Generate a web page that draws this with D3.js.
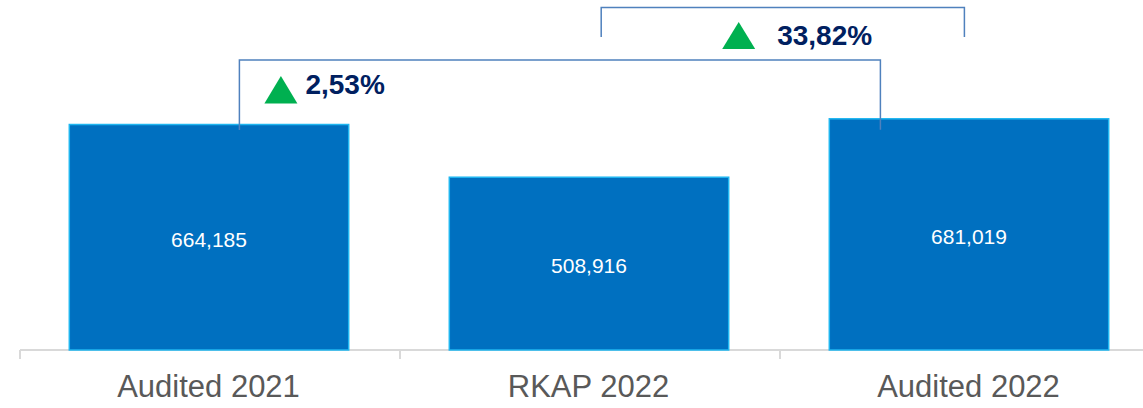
<!DOCTYPE html>
<html>
<head>
<meta charset="utf-8">
<script src="https://cdn.jsdelivr.net/npm/d3@7"></script>
<style>
  html, body { margin: 0; padding: 0; background: #fff; }
  svg { display: block; }
</style>
</head>
<body>
<svg id="chart" width="1143" height="408"></svg>
<script>
const categories = ["Audited 2021", "RKAP 2022", "Audited 2022"];
const values = [664185, 508916, 681019];
const valueLabels = ["664,185", "508,916", "681,019"];
const growthLabels = ["2,53%", "33,82%"];

const W = 1143, H = 408;
const svg = d3.select("#chart");

const x = d3.scaleBand()
  .domain(categories)
  .range([20, 1160])
  .paddingInner(100 / 380)
  .paddingOuter(50 / 380);

const y = d3.scaleLinear().domain([0, 700000]).range([350, 350 - 237.65]);

// axis
const axis = d3.axisBottom(x).tickSize(0).tickFormat(d => d);
const gAxis = svg.append("g").attr("transform", "translate(0,350)").call(axis);
gAxis.select(".domain").remove();
gAxis.append("line").attr("x1", 20).attr("x2", 1160).attr("y1", 0).attr("y2", 0)
  .attr("stroke", "#d9d9d9").attr("stroke-width", 2);
const bounds = [20].concat(categories.map(c => x(c) + x.bandwidth() + x.step() * x.paddingInner() / 2));
gAxis.selectAll(".sep").data(bounds).enter().append("line")
  .attr("x1", d => d).attr("x2", d => d).attr("y1", 0).attr("y2", 9)
  .attr("stroke", "#d9d9d9").attr("stroke-width", 2);
gAxis.selectAll(".tick text")
  .attr("x", -1.5)
  .attr("y", 46.5).attr("dy", 0)
  .attr("fill", "#595959")
  .style("font-family", "'Liberation Sans', Arial, sans-serif")
  .style("font-size", "31px");

// bars
svg.selectAll(".bar").data(values).enter().append("rect")
  .attr("x", (d, i) => x(categories[i]) - 0.7)
  .attr("y", d => y(d))
  .attr("width", x.bandwidth() - 0.6)
  .attr("height", d => y(0) - y(d))
  .attr("fill", "#0070C0")
  .attr("stroke", "#1FB6F0")
  .attr("stroke-width", 1.5);

svg.selectAll(".vl").data(values).enter().append("text")
  .attr("x", (d, i) => x(categories[i]) + x.bandwidth() / 2 - 1)
  .attr("y", d => (y(d) + y(0)) / 2 + 9.5)
  .attr("text-anchor", "middle")
  .attr("fill", "#fff")
  .style("font-family", "'Liberation Sans', Arial, sans-serif")
  .style("font-size", "21px")
  .text((d, i) => valueLabels[i]);

// brackets
const lineColor = "#4F81BD";
const bw = x.bandwidth();
function bracket(x1, x2, yTop, yA, yB) {
  svg.append("path")
    .attr("d", `M${x1},${yA}V${yTop}H${x2}V${yB}`)
    .attr("fill", "none").attr("stroke", lineColor).attr("stroke-width", 1.5);
}
// Audited 2021 -> Audited 2022
const b1x1 = x(categories[0]) + bw * 0.605;
const b1x2 = x(categories[2]) + bw * 0.18;
bracket(b1x1, b1x2, 60, y(values[0]) + 5.5, y(values[2]) + 11);
// RKAP 2022 -> Audited 2022
const b2x1 = x(categories[1]) + bw * 0.54;
const b2x2 = x(categories[2]) + bw * 0.48;
bracket(b2x1, b2x2, 7.5, 37, 37);

function triangle(cx, yTop, yBot, w) {
  svg.append("path")
    .attr("d", `M${cx - w / 2},${yBot}L${cx},${yTop}L${cx + w / 2},${yBot}Z`)
    .attr("fill", "#00B050");
}
function growth(tx, ty, txt) {
  svg.append("text").attr("x", tx).attr("y", ty)
    .attr("fill", "#002060")
    .style("font-family", "'Liberation Sans', Arial, sans-serif")
    .style("font-weight", "bold")
    .style("font-size", "28px")
    .text(txt);
}
triangle(b1x1 + 41.5, 76, 103.5, 33);
growth(b1x1 + 66, 93.5, growthLabels[0]);
triangle(b2x1 + 137.5, 22, 49, 33);
growth(b2x1 + 176, 45, growthLabels[1]);
</script>
</body>
</html>
